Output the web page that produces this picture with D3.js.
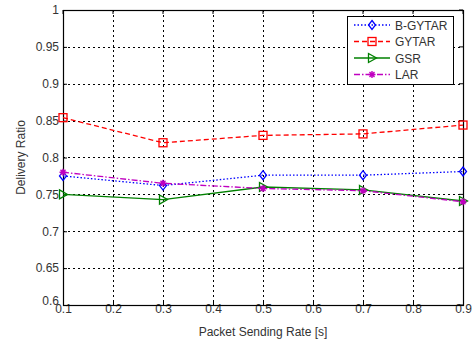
<!DOCTYPE html>
<html>
<head>
<meta charset="utf-8">
<script src="https://cdn.jsdelivr.net/npm/d3@7"></script>
<style>
  body { margin: 0; background: #fff; }
  text { font-family: "Liberation Sans", Arial, sans-serif; }
</style>
</head>
<body>
<div id="chart"></div>
<script>
// data
const rates = [0.1, 0.3, 0.5, 0.7, 0.9];
const bGytar = [0.775, 0.762, 0.776, 0.776, 0.781];
const gytar = [0.854, 0.820, 0.830, 0.832, 0.844];
const gsr = [0.750, 0.743, 0.760, 0.756, 0.741];
const lar = [0.780, 0.765, 0.758, 0.755, 0.740];
const xTicks = [0.1, 0.2, 0.3, 0.4, 0.5, 0.6, 0.7, 0.8, 0.9];
const yTicks = [0.6, 0.65, 0.7, 0.75, 0.8, 0.85, 0.9, 0.95, 1];

const series = [
  { name: 'B-GYTAR', values: bGytar, color: '#0000ff', dash: '1.5,2', marker: 'diamond' },
  { name: 'GYTAR', values: gytar, color: '#ff0000', dash: '5,3', marker: 'square' },
  { name: 'GSR', values: gsr, color: '#008000', dash: null, marker: 'triangle' },
  { name: 'LAR', values: lar, color: '#c000c0', dash: '6,2,1.5,2', marker: 'star' },
];

const W = 476, H = 341;
const margin = { top: 10, right: 13, bottom: 36, left: 63 };
const width = W - margin.left - margin.right;
const height = H - margin.top - margin.bottom;
const fs = '12px';
const txt = '#333';

const svg = d3.select('#chart').append('svg')
  .attr('width', W).attr('height', H);
const g = svg.append('g').attr('transform', `translate(${margin.left},${margin.top})`);

const x = d3.scaleLinear().domain([0.1, 0.9]).range([0, width]);
const y = d3.scaleLinear().domain([0.6, 1]).range([height, 0]);

// grid
g.append('g').selectAll('line').data(xTicks.slice(1, -1)).enter().append('line')
  .attr('x1', (d) => x(d)).attr('x2', (d) => x(d))
  .attr('y1', 0).attr('y2', height)
  .attr('stroke', '#000').attr('stroke-width', 1).attr('stroke-dasharray', '2,3')
  .attr('shape-rendering', 'crispEdges');
g.append('g').selectAll('line').data(yTicks.slice(1, -1)).enter().append('line')
  .attr('x1', 0).attr('x2', width)
  .attr('y1', (d) => Math.round(y(d)) + 0.5).attr('y2', (d) => Math.round(y(d)) + 0.5)
  .attr('stroke', '#000').attr('stroke-width', 1).attr('stroke-dasharray', '2,3');

// axes (MATLAB style: ticks inward, labels outside)
const xAxis = g.append('g').attr('transform', `translate(0,${height})`)
  .call(d3.axisBottom(x).tickValues(xTicks).tickSize(-4).tickPadding(3).tickFormat(d3.format('')));
const yAxis = g.append('g')
  .call(d3.axisLeft(y).tickValues(yTicks).tickSize(-4).tickPadding(4).tickFormat(d3.format('')));
[xAxis, yAxis].forEach((a) => {
  a.select('.domain').remove();
  a.selectAll('.tick line').attr('stroke', '#000');
  a.selectAll('.tick text').attr('fill', txt).style('font-size', fs)
    .style('font-family', '"Liberation Sans", Arial, sans-serif');
});
xAxis.selectAll('.tick text').attr('dy', '0.45em');
yAxis.selectAll('.tick text').filter((d) => d === 0.6).attr('dy', '-0.05em');

// top & right inward ticks
g.append('g').selectAll('line').data(xTicks).enter().append('line')
  .attr('x1', (d) => x(d)).attr('x2', (d) => x(d)).attr('y1', 0).attr('y2', 4).attr('stroke', '#000');
g.append('g').selectAll('line').data(yTicks).enter().append('line')
  .attr('x1', width).attr('x2', width - 4).attr('y1', (d) => y(d)).attr('y2', (d) => y(d)).attr('stroke', '#000');

// box
g.append('rect').attr('x', 0.5).attr('y', 0.5).attr('width', width).attr('height', height)
  .attr('fill', 'none').attr('stroke', '#000').attr('stroke-width', 1.2);

// axis labels
svg.append('text')
  .attr('x', margin.left + width / 2).attr('y', H - 5)
  .attr('text-anchor', 'middle').attr('fill', txt).style('font-size', fs)
  .text('Packet Sending Rate [s]');
svg.append('text')
  .attr('transform', `translate(25,${margin.top + height / 2}) rotate(-90)`)
  .attr('text-anchor', 'middle').attr('fill', txt).style('font-size', fs)
  .text('Delivery Ratio');

function drawMarker(sel, type, color) {
  if (type === 'diamond') {
    sel.append('path').attr('d', 'M0,-4.5L3.5,0L0,4.5L-3.5,0Z')
      .attr('fill', 'none').attr('stroke', color).attr('stroke-width', 1.3);
  } else if (type === 'square') {
    sel.append('rect').attr('x', -4).attr('y', -4).attr('width', 8).attr('height', 8)
      .attr('fill', 'none').attr('stroke', color).attr('stroke-width', 1.3);
  } else if (type === 'triangle') {
    sel.append('path').attr('d', 'M-3.5,-4.5L4.5,0L-3.5,4.5Z')
      .attr('fill', 'none').attr('stroke', color).attr('stroke-width', 1.3);
  } else {
    sel.append('path').attr('d', 'M-3.5,0L3.5,0M0,-3.5L0,3.5M-2.5,-2.5L2.5,2.5M-2.5,2.5L2.5,-2.5')
      .attr('stroke', color).attr('stroke-width', 1.4);
    sel.append('circle').attr('r', 1.6).attr('fill', color);
  }
}

const line = d3.line().x((d) => x(d[0])).y((d) => y(d[1]));

series.forEach((s) => {
  const pts = rates.map((r, i) => [r, s.values[i]]);
  g.append('path').datum(pts).attr('d', line)
    .attr('fill', 'none').attr('stroke', s.color).attr('stroke-width', 1.3)
    .attr('stroke-dasharray', s.dash);
  g.append('g').selectAll('g').data(pts).enter().append('g')
    .attr('transform', (d) => `translate(${x(d[0])},${y(d[1])})`)
    .each(function () { drawMarker(d3.select(this), s.marker, s.color); });
});

// legend
const lg = svg.append('g').attr('transform', 'translate(347,16)');
lg.append('rect').attr('x', 0.5).attr('y', 0.5).attr('width', 106).attr('height', 68)
  .attr('fill', '#fff').attr('stroke', '#000');
series.forEach((s, i) => {
  const row = lg.append('g').attr('transform', `translate(0,${9 + i * 16.5})`);
  row.append('line').attr('x1', 7).attr('x2', 43).attr('y1', 0).attr('y2', 0)
    .attr('stroke', s.color).attr('stroke-width', 1.3).attr('stroke-dasharray', s.dash);
  drawMarker(row.append('g').attr('transform', 'translate(25,0)'), s.marker, s.color);
  row.append('text').attr('x', 48).attr('y', 4.5).attr('fill', txt).style('font-size', fs)
    .text(s.name);
});
</script>
</body>
</html>
